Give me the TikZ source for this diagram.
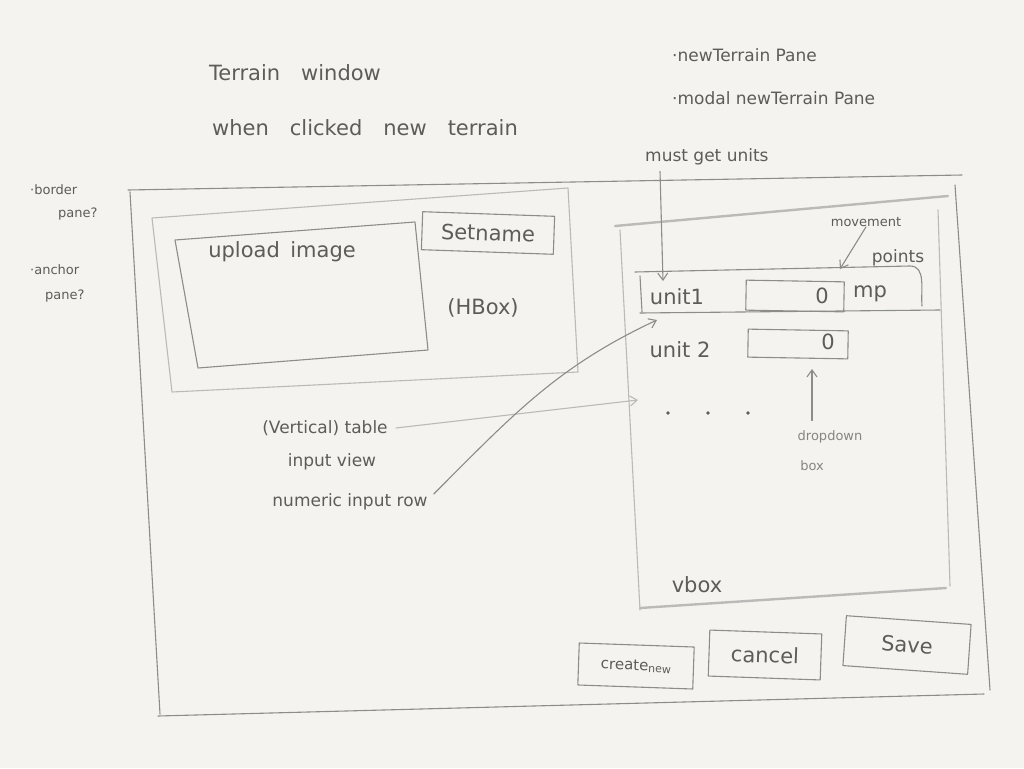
\documentclass[tikz,border=0pt]{standalone}
\usepackage{fontspec}
\setsansfont{DejaVu Sans}
\usetikzlibrary{arrows.meta}
\definecolor{paper}{HTML}{F4F3EF}
\definecolor{pencil}{HTML}{8C8C8A}
\definecolor{ink}{HTML}{5C5C5A}
\tikzset{
  sketch/.style={draw=pencil, line width=1.1pt},
  faint/.style={draw=pencil!60, line width=1.1pt},
  lbl/.style={text=ink, font=\sffamily\fontsize{21}{23}\selectfont, inner sep=0pt},
  note/.style={lbl, font=\sffamily\fontsize{17}{19}\selectfont},
  tiny/.style={lbl, font=\sffamily\fontsize{13}{15}\selectfont},
  btn/.style={lbl, draw=pencil, line width=1.1pt, inner sep=0pt},
}
\begin{document}
\begin{tikzpicture}[x=1pt,y=-1pt,line cap=round,line join=round,>={Straight Barb[length=7pt,width=10pt]}]
	\fill[paper] (0,0) rectangle (1024,768);
	\useasboundingbox (0,0) rectangle (1024,768);
	%TITLES
	\node[lbl] (title) at (295,73) {Terrain\quad window};
	\node[lbl] (subtitle) at (365,128) {when\quad clicked\quad new\quad terrain};
	\node[note,anchor=west] (panename) at (672,55) {·newTerrain Pane};
	\node[note,anchor=west] (modalname) at (672,98) {·modal newTerrain Pane};
	\node[tiny,anchor=west] (border) at (30,190) {·border};
	\node[tiny,anchor=west] (borderq) at (58,214) {pane?};
	\node[tiny,anchor=west] (anchorp) at (30,270) {·anchor};
	\node[tiny,anchor=west] (anchorq) at (45,296) {pane?};
	
	%WINDOW
	\draw[sketch] (128,190) -- (962,175);
	\draw[sketch] (955,185) -- (990,690);
	\draw[sketch] (984,694) -- (158,716);
	\draw[sketch] (160,714) -- (130,192);
	
	%HBOX
	\draw[faint] (152,218) -- (568,188) -- (578,372) -- (172,392) -- cycle;
	\draw[sketch] (175,240) -- (415,222) -- (428,350) -- (198,368) -- cycle;
	\node[lbl] (upload) at (282,252) {upload\enspace image};
	\node[btn,minimum width=132pt,minimum height=38pt,rotate=-2] (setname) at (488,233) {Setname};
	\node[lbl] (hbox) at (483,308) {(HBox)};
	
	%VBOX
	\draw[faint,line width=2.4pt] (615,226) -- (948,196);
	\draw[faint] (620,230) -- (640,610);
	\draw[faint] (938,210) -- (950,586);
	\draw[faint,line width=2.4pt] (640,608) -- (946,588);
	\node[lbl] (vbox) at (697,585) {vbox};
	
	%ROWS
	\draw[sketch] (635,272) -- (910,266) to[out=0,in=95] (922,306);
	\draw[sketch] (640,313) -- (940,310);
	\draw[sketch] (640,276) -- (642,312);
	\node[lbl] (unit1) at (677,297) {unit1};
	\node[btn,minimum width=98pt,minimum height=30pt,rotate=-1] (field1) at (795,296) {};
	\node[lbl] (zero1) at (822,296) {0};
	\node[lbl] (mp) at (870,294) {mp};
	\node[lbl] (unit2) at (680,350) {unit 2};
	\node[btn,minimum width=100pt,minimum height=28pt,rotate=-1] (field2) at (798,344) {};
	\node[lbl] (zero2) at (828,342) {0};
	\foreach \x in {668,708,748}
		\fill[ink] (\x,413) circle (1.8);
	
	%NOTES
	\node[note,anchor=west] (mustget) at (645,157) {must get units};
	\coordinate (gettip) at (663,281);
	\draw[sketch,->] (mustget.south west) ++(15,6) -- (gettip);
	\node[tiny] (movement) at (866,222) {movement};
	\coordinate (movetip) at (840,269);
	\draw[sketch,->] (movement.south) -- (movetip);
	\node[note] (points) at (898,258) {points};
	\node[tiny,text=ink!75] (dropdown) at (830,437) {dropdown};
	\node[tiny,text=ink!75] (ddbox) at (812,466) {box};
	\coordinate (droptip) at (812,369);
	\draw[sketch,->] (dropdown.north -| droptip) ++(0,-10) -- (droptip);
	
	%LABELS
	\node[note] (tableview) at (325,428) {(Vertical) table};
	\node[note] (inputview) at (332,462) {input view};
	\coordinate (vboxedge) at (638,400);
	\draw[faint,->] (tableview.east) ++(8,0) -- (vboxedge);
	\node[note] (numrow) at (350,502) {numeric input row};
	\coordinate (rowtip) at (657,320);
	\draw[sketch,->] (numrow.east) ++(6,-8) to[out=45,in=205] (rowtip);
	
	%BUTTONS
	\node[btn,minimum width=115pt,minimum height=42pt,rotate=-2] (createnew) at (636,666) {\fontsize{15}{17}\selectfont create\raisebox{-2pt}{\fontsize{11}{13}\selectfont new}};
	\node[btn,minimum width=112pt,minimum height=46pt,rotate=-2] (cancel) at (765,655) {cancel};
	\node[btn,minimum width=125pt,minimum height=50pt,rotate=-4] (save) at (907,645) {Save};
\end{tikzpicture}
\end{document}
